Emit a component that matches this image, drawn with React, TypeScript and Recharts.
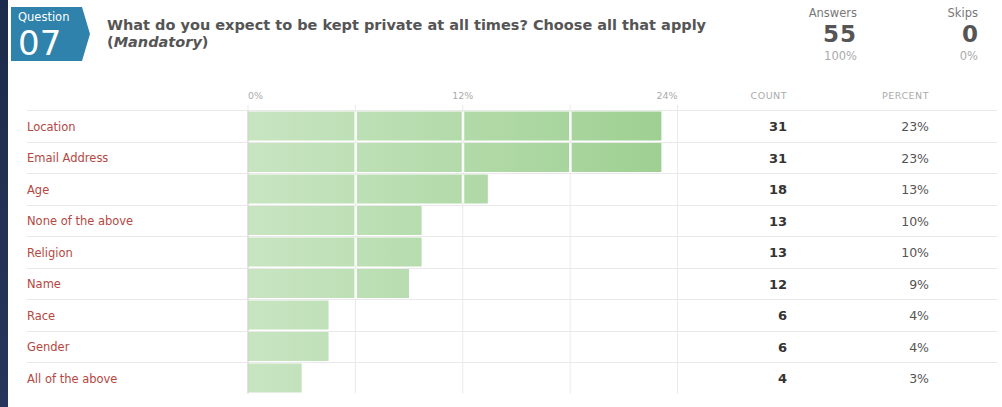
import React from "react";
import { BarChart, Bar, XAxis, YAxis, CartesianGrid, LabelList } from "recharts";

const categories = [
  "Location",
  "Email Address",
  "Age",
  "None of the above",
  "Religion",
  "Name",
  "Race",
  "Gender",
  "All of the above",
];
const counts = [31, 31, 18, 13, 13, 12, 6, 6, 4];
const percents = [23.1, 23.1, 13.4, 9.7, 9.7, 9.0, 4.5, 4.5, 3.0];
const percentLabels = ["23%", "23%", "13%", "10%", "10%", "9%", "4%", "4%", "3%"];
const axisTicks = [0, 6, 12, 18, 24];
const labeledTicks = [0, 12, 24];

const FONT = "'DejaVu Sans', Verdana, sans-serif";
const W = 1002;
const H = 407;
const MARGIN = { top: 96, right: 324.5, bottom: 13.5, left: 0 };
const X_AXIS_H = 14;
const ROW_H = (H - MARGIN.top - X_AXIS_H - MARGIN.bottom) / categories.length;

const chartData = categories.map((name, i) => ({
  name,
  count: counts[i],
  percent: percents[i],
  percentLabel: percentLabels[i],
}));

const TopTick = (props: any) => {
  const { x, payload } = props;
  const v = payload.value;
  if (!labeledTicks.includes(v)) return null;
  const anchor = v === 0 ? "start" : v === 24 ? "end" : "middle";
  return (
    <text x={x} y={99} textAnchor={anchor} fontSize={9.5} fill="#aaa" fontFamily={FONT}>
      {`${v}%`}
    </text>
  );
};

// category label plus the row separator along the top of its band
const RowTick = (props: any) => {
  const { y, payload } = props;
  const top = Math.round(y - ROW_H / 2) + 0.5;
  return (
    <g>
      <line x1={27} x2={997} y1={top} y2={top} stroke="#e9e9e9" />
      <text x={27} y={y + 5} fontSize={11.5} fill="#b5473f" fontFamily={FONT}>
        {payload.value}
      </text>
    </g>
  );
};

const BarShape = (props: any) => {
  const { x, y, width, height, payload } = props;
  const value = payload.percent;
  const seps = axisTicks.filter((t) => t > 0 && t < value);
  return (
    <g>
      <rect x={x} y={y} width={width} height={height} fill="url(#barGrad)" />
      {seps.map((t) => (
        <rect key={t} x={x + (width * t) / value - 1} y={y} width={2.5} height={height} fill="#fff" />
      ))}
    </g>
  );
};

const CountLabel = (props: any) => {
  const { y, height, value } = props;
  return (
    <text x={787} y={y + height / 2 + 5} textAnchor="end" fontSize={13} fontWeight="bold" fill="#333" fontFamily={FONT}>
      {value}
    </text>
  );
};

const PercentLabel = (props: any) => {
  const { y, height, value } = props;
  return (
    <text x={929} y={y + height / 2 + 5} textAnchor="end" fontSize={12.5} fill="#555" fontFamily={FONT}>
      {value}
    </text>
  );
};

export default function App() {
  return (
    <div style={{ position: "relative", width: W, height: H, background: "#fff", overflow: "hidden", fontFamily: FONT }}>
      <style>{`body{margin:0}`}</style>
      <div style={{ position: "absolute", left: 0, top: 0, width: 8, height: H, background: "linear-gradient(#1c2a4b, #26365c)" }} />

      <svg width={W} height={70} style={{ position: "absolute", left: 0, top: 0 }}>
        <polygon points="11,7 82,7 90,34 82,61 11,61" fill="#2e82ab" />
        <text x={18} y={21} fontSize={11.5} fill="#fff" fontFamily={FONT}>Question</text>
        <text x={18} y={55} fontSize={34} fill="#fff" fontFamily={FONT}>07</text>
        <text x={107} y={30} fontSize={14.5} fontWeight="bold" fill="#555" fontFamily={FONT}>
          What do you expect to be kept private at all times? Choose all that apply
        </text>
        <text x={107} y={47} fontSize={14.5} fontWeight="bold" fill="#555" fontFamily={FONT}>
          (<tspan fontStyle="italic">Mandatory</tspan>)
        </text>
        <text x={857} y={17} textAnchor="end" fontSize={11.5} fill="#777" fontFamily={FONT}>Answers</text>
        <text x={857} y={42} textAnchor="end" fontSize={23} fontWeight="bold" fill="#555" fontFamily={FONT} letterSpacing={1}>55</text>
        <text x={857} y={60} textAnchor="end" fontSize={11.5} fill="#aaa" fontFamily={FONT}>100%</text>
        <text x={978} y={17} textAnchor="end" fontSize={11.5} fill="#777" fontFamily={FONT}>Skips</text>
        <text x={978} y={42} textAnchor="end" fontSize={23} fontWeight="bold" fill="#555" fontFamily={FONT}>0</text>
        <text x={978} y={60} textAnchor="end" fontSize={11.5} fill="#aaa" fontFamily={FONT}>0%</text>
      </svg>

      <div style={{ position: "absolute", left: 0, top: 0 }}>
        <BarChart
          width={W}
          height={H}
          data={chartData}
          layout="vertical"
          margin={MARGIN}
          barCategoryGap={1.5}
        >
          <defs>
            <linearGradient id="barGrad" gradientUnits="userSpaceOnUse" x1={248} y1={0} x2={678} y2={0}>
              <stop offset="0%" stopColor="#c8e5c2" />
              <stop offset="100%" stopColor="#9dcf90" />
            </linearGradient>
          </defs>
          <CartesianGrid horizontal={false} y={105} height={288.5} stroke="#e9e9e9" fill="none" />
          <XAxis
            type="number"
            orientation="top"
            domain={[0, 24]}
            ticks={axisTicks}
            height={X_AXIS_H}
            axisLine={false}
            tickLine={false}
            tick={<TopTick />}
          />
          <YAxis
            type="category"
            dataKey="name"
            width={248}
            axisLine={{ stroke: "#cfcfcf" }}
            tickLine={false}
            tick={<RowTick />}
          />
          <Bar dataKey="percent" isAnimationActive={false} shape={<BarShape />}>
            <LabelList dataKey="count" content={<CountLabel />} />
            <LabelList dataKey="percentLabel" content={<PercentLabel />} />
          </Bar>
        </BarChart>
      </div>

      <div style={{ position: "absolute", left: 700, top: 90, width: 87, textAlign: "right", fontSize: 9.5, color: "#aaa", letterSpacing: 0.5 }}>
        COUNT
      </div>
      <div style={{ position: "absolute", left: 800, top: 90, width: 129, textAlign: "right", fontSize: 9.5, color: "#aaa", letterSpacing: 0.5 }}>
        PERCENT
      </div>
    </div>
  );
}
